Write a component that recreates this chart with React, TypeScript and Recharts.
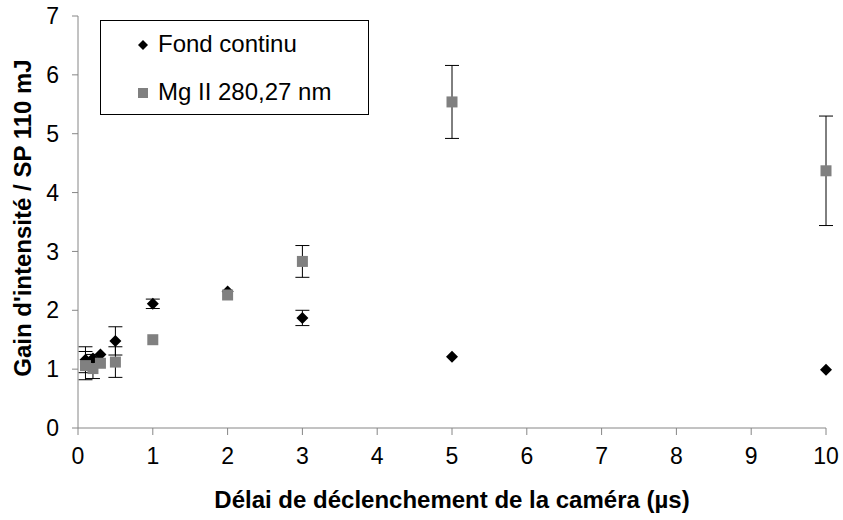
import React from "react";
import { ScatterChart, Scatter, XAxis, YAxis, ErrorBar, Label } from "recharts";

const delays = [0.1, 0.2, 0.3, 0.5, 1, 2, 3, 5, 10];
const fondValues = [1.16, 1.18, 1.25, 1.48, 2.11, 2.32, 1.87, 1.21, 0.99];
const fondErrors = [0.22, 0.07, 0, 0.24, 0.08, 0, 0.13, 0, 0];
const mgValues = [1.06, 1.01, 1.1, 1.12, 1.5, 2.26, 2.83, 5.54, 4.37];
const mgErrors = [0.24, 0.17, 0, 0.26, 0, 0, 0.27, 0.62, 0.93];

const xTicks = [0, 1, 2, 3, 4, 5, 6, 7, 8, 9, 10];
const yTicks = [0, 1, 2, 3, 4, 5, 6, 7];

const fondData = delays.map((x, i) => ({ x, y: fondValues[i], err: fondErrors[i] }));
const mgData = delays.map((x, i) => ({ x, y: mgValues[i], err: mgErrors[i] }));

const FONT = "'Liberation Sans', Arial, sans-serif";
const AXIS = "#868686";
const GREY = "#808080";

const Diamond = (props: any) => {
  const { cx, cy } = props;
  return (
    <path
      d={`M${cx},${cy - 6} L${cx + 6},${cy} L${cx},${cy + 6} L${cx - 6},${cy} Z`}
      fill="#000"
    />
  );
};

const Square = (props: any) => {
  const { cx, cy } = props;
  return <rect x={cx - 5.5} y={cy - 5.5} width={11} height={11} fill={GREY} />;
};

// legend drawn as a plain box over the plot, like the Excel original
const LegendBox = () => (
  <div
    style={{
      position: "absolute",
      left: 100,
      top: 20,
      width: 269,
      height: 95,
      boxSizing: "border-box",
      border: "1px solid #000",
      background: "#fff",
      fontFamily: FONT,
      fontSize: 24,
      color: "#000",
    }}
  >
    <svg width={14} height={14} style={{ position: "absolute", left: 35, top: 17 }}>
      <path d="M7,2 L12,7 L7,12 L2,7 Z" fill="#000" />
    </svg>
    <span style={{ position: "absolute", left: 57, top: 9, whiteSpace: "nowrap" }}>
      Fond continu
    </span>
    <svg width={14} height={14} style={{ position: "absolute", left: 35, top: 65 }}>
      <rect x={2} y={2} width={10} height={10} fill={GREY} />
    </svg>
    <span style={{ position: "absolute", left: 57, top: 57, whiteSpace: "nowrap" }}>
      Mg II 280,27 nm
    </span>
  </div>
);

export default function App() {
  return (
    <div style={{ position: "absolute", left: 0, top: 0, width: 843, height: 520, background: "#fff" }}>
      <ScatterChart
        width={843}
        height={520}
        margin={{ top: 16, right: 17, bottom: 0, left: 0 }}
      >
        <XAxis
          type="number"
          dataKey="x"
          domain={[0, 10]}
          ticks={xTicks}
          interval={0}
          height={92}
          tickSize={7}
          tickMargin={13}
          stroke={AXIS}
          tick={{ fill: "#000", fontSize: 23, fontFamily: FONT }}
        >
          <Label
            content={() => (
              <text
                x={452}
                y={508}
                textAnchor="middle"
                fontFamily={FONT}
                fontWeight="bold"
                fontSize={24}
                fill="#000"
              >
                Délai de déclenchement de la caméra (µs)
              </text>
            )}
          />
        </XAxis>
        <YAxis
          type="number"
          dataKey="y"
          domain={[0, 7]}
          ticks={yTicks}
          interval={0}
          width={78}
          tickSize={6}
          tickMargin={13}
          stroke={AXIS}
          tick={{ fill: "#000", fontSize: 23, fontFamily: FONT }}
        >
          <Label
            content={() => (
              <text
                transform="translate(31,218) rotate(-90)"
                textAnchor="middle"
                fontFamily={FONT}
                fontWeight="bold"
                fontSize={24}
                fill="#000"
              >
                Gain d'intensité / SP 110 mJ
              </text>
            )}
          />
        </YAxis>
        <Scatter
          name="Fond continu"
          data={fondData}
          shape={<Diamond />}
          isAnimationActive={false}
        >
          <ErrorBar dataKey="err" direction="y" width={7} stroke="#000" strokeWidth={1} />
        </Scatter>
        <Scatter
          name="Mg II 280,27 nm"
          data={mgData}
          shape={<Square />}
          isAnimationActive={false}
        >
          <ErrorBar dataKey="err" direction="y" width={7} stroke="#000" strokeWidth={1} />
        </Scatter>
      </ScatterChart>
      <LegendBox />
    </div>
  );
}
